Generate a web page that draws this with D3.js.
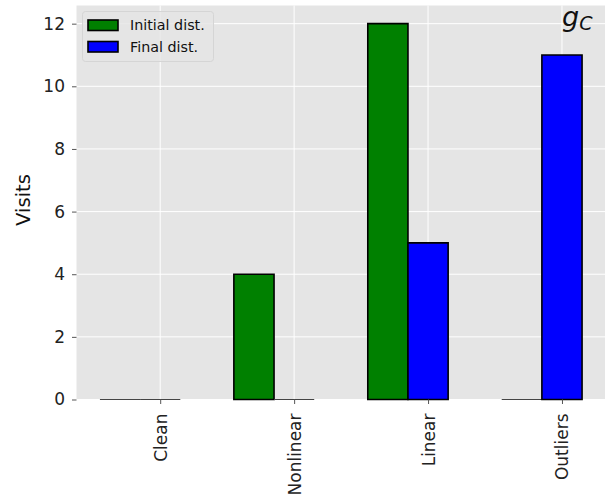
<!DOCTYPE html>
<html>
<head>
<meta charset="utf-8">
<script src="https://cdn.jsdelivr.net/npm/d3@7"></script>
<style>
  html, body { margin: 0; padding: 0; background: #fff; }
  svg { display: block; font-family: "DejaVu Sans", sans-serif; }
  svg text { font-family: "DejaVu Sans", sans-serif; }
</style>
</head>
<body>
<svg id="chart" width="605" height="500"></svg>
<script>
const categories = ["Clean", "Nonlinear", "Linear", "Outliers"];
const initialDist = [0, 4, 12, 0];
const finalDist = [0, 0, 5, 11];
const yTicks = [0, 2, 4, 6, 8, 10, 12];
const seriesNames = ["Initial dist.", "Final dist."];
const seriesColors = ["#008000", "#0000ff"];

const svg = d3.select("#chart");
const plot = { left: 76.5, right: 605.5, top: 5.5, bottom: 399.5 };
const barW = 0.3;

const x = d3.scaleLinear().domain([-0.625, 3.325]).range([plot.left, plot.right]);
const y = d3.scaleLinear().domain([0, 12.58]).range([plot.bottom, plot.top]);

// background
svg.append("rect")
  .attr("x", plot.left).attr("y", plot.top)
  .attr("width", plot.right - plot.left).attr("height", plot.bottom - plot.top)
  .attr("fill", "#e5e5e5");

// grid
const grid = svg.append("g");
grid.selectAll(".hg").data(yTicks).enter().append("line")
  .attr("x1", plot.left).attr("x2", plot.right)
  .attr("y1", d => y(d)).attr("y2", d => y(d))
  .attr("stroke", "#fff").attr("stroke-width", 1);
grid.selectAll(".vg").data(categories).enter().append("line")
  .attr("x1", (d, i) => x(i)).attr("x2", (d, i) => x(i))
  .attr("y1", plot.top).attr("y2", plot.bottom)
  .attr("stroke", "#fff").attr("stroke-width", 1);

// bars (paths so that zero-height bars still show their edge)
const series = [initialDist, finalDist];
series.forEach((vals, si) => {
  svg.append("g").selectAll("path").data(vals).enter().append("path")
    .attr("d", (d, i) => {
      const x0 = x(i - barW * (1 - si) - barW / 2);
      const x1 = x(i - barW * (1 - si) + barW / 2);
      const y0 = y(0), y1 = y(d);
      return `M${x0},${y0}L${x0},${y1}L${x1},${y1}L${x1},${y0}Z`;
    })
    .attr("fill", seriesColors[si])
    .attr("stroke", d => d === 0 ? "#444" : "#000")
    .attr("stroke-width", d => d === 0 ? 1.2 : 1.6);
});

// axes
const yAxis = d3.axisLeft(y).tickValues(yTicks).tickSize(4.5).tickPadding(7).tickFormat(d3.format("d"));
const gy = svg.append("g").attr("transform", `translate(${plot.left},0)`).call(yAxis)
  .attr("font-family", "DejaVu Sans").attr("font-size", 17);
gy.select(".domain").remove();
gy.selectAll(".tick line").attr("stroke", "#555");
gy.selectAll(".tick text").attr("fill", "#222");

const xAxis = d3.axisBottom(x).tickValues(categories.map((d, i) => i))
  .tickFormat(i => categories[i]).tickSize(4.5).tickPadding(0);
const gx = svg.append("g").attr("transform", `translate(0,${plot.bottom})`).call(xAxis)
  .attr("font-family", "DejaVu Sans").attr("font-size", 17);
gx.select(".domain").remove();
gx.selectAll(".tick line").attr("stroke", "#555");
gx.selectAll(".tick text")
  .attr("fill", "#222")
  .attr("text-anchor", "end")
  .attr("dy", null)
  .attr("dominant-baseline", "central")
  .attr("y", 0)
  .attr("transform", "translate(0,14) rotate(-90)");

// y label
svg.append("text")
  .attr("transform", `translate(30,200) rotate(-90)`)
  .attr("text-anchor", "middle")
  .attr("fill", "#111")
  .style("font-size", "19.6px")
  .text("Visits");

// g_C annotation
const gc = svg.append("text")
  .attr("x", 562).attr("y", 26)
  .attr("fill", "#111")
  .style("font-size", "27px")
  .style("font-style", "italic");
gc.append("tspan").text("g");
gc.append("tspan").attr("dy", 4).style("font-size", "19px").text("C");

// legend
const lg = svg.append("g");
lg.append("rect")
  .attr("x", 82.5).attr("y", 11.5).attr("width", 131).attr("height", 50)
  .attr("rx", 3).attr("fill", "#e5e5e5").attr("fill-opacity", 0.8)
  .attr("stroke", "#d5d5d5").attr("stroke-width", 1);
seriesNames.forEach((name, i) => {
  const cy = 25 + i * 21.5;
  lg.append("rect")
    .attr("x", 88).attr("y", cy - 5).attr("width", 30).attr("height", 10.5)
    .attr("fill", seriesColors[i]).attr("stroke", "#000").attr("stroke-width", 1.6);
  lg.append("text")
    .attr("x", 130).attr("y", cy).attr("dominant-baseline", "central")
    .attr("fill", "#111").style("font-size", "14.3px").text(name);
});
</script>
</body>
</html>
